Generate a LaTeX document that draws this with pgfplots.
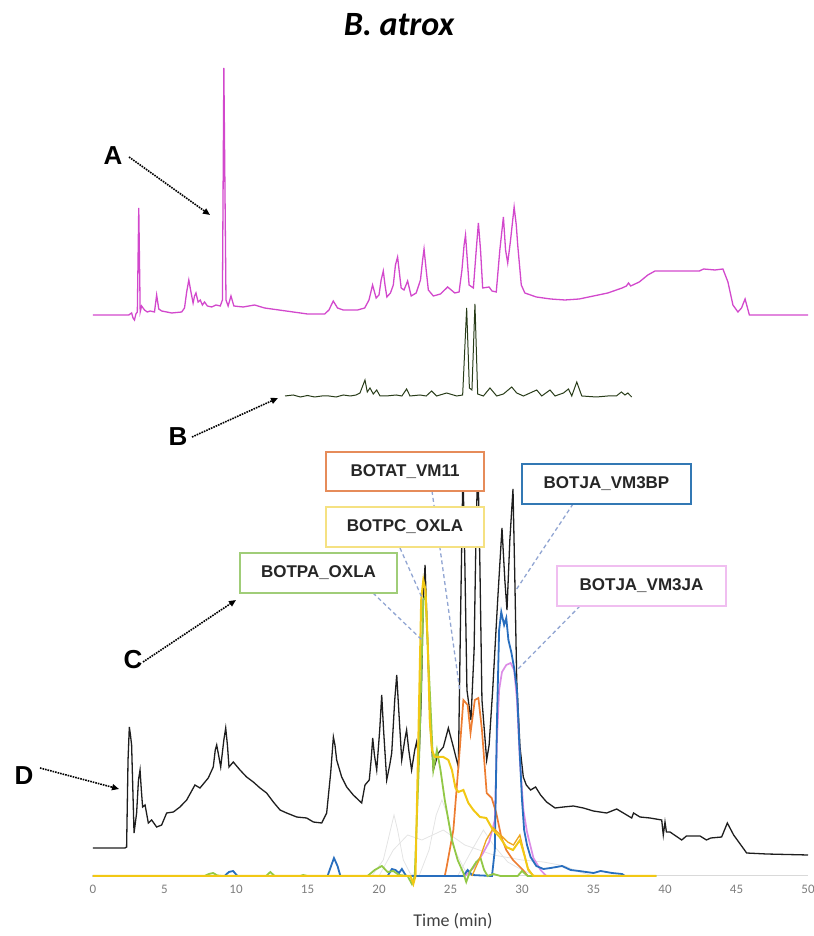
\documentclass[border=0pt]{standalone}
\usepackage{pgfplots}
\pgfplotsset{compat=1.18}
\usepackage{fontspec}
\setmainfont{Carlito}
\newfontfamily\arialf{Liberation Sans}
\usetikzlibrary{arrows.meta}
\definecolor{magA}{RGB}{210,72,204}
\definecolor{grnB}{RGB}{40,60,25}
\definecolor{blkC}{RGB}{30,30,30}
\definecolor{yelT}{RGB}{242,200,20}
\definecolor{ambT}{RGB}{238,165,30}
\definecolor{grnT}{RGB}{146,200,70}
\definecolor{bluT}{RGB}{40,110,190}
\definecolor{oraT}{RGB}{237,125,49}
\definecolor{pnkT}{RGB}{220,140,230}
\definecolor{fntT}{RGB}{228,228,228}
\definecolor{dashC}{RGB}{145,165,210}
\definecolor{tickgray}{RGB}{125,125,125}
\definecolor{bxOra}{RGB}{230,140,90}
\definecolor{bxYel}{RGB}{245,225,130}
\definecolor{bxGrn}{RGB}{160,205,120}
\definecolor{bxBlu}{RGB}{50,120,180}
\definecolor{bxPnk}{RGB}{240,190,240}
\begin{document}
\begin{tikzpicture}
\begin{axis}[name=ax,
 scale only axis, width=715pt, height=876pt,
 xmin=0,xmax=50,ymin=0,ymax=876,
 axis x line*=bottom, axis y line=none,
 x axis line style={draw=gray!30, line width=1pt},
 xtick={0,5,...,50}, major tick length=0pt,
 xticklabel style={font=\fontsize{13}{13}\selectfont, text=tickgray},
 xticklabel shift=6pt,
 /pgf/number format/assume math mode=true,
 y filter/.expression={876-y},
 clip=false,
]
% faint background traces
\addplot[fntT, line width=0.8pt] coordinates {(19.5,876)(20.3,860)(20.8,830)(21.05,815)(21.3,830)(21.7,860)(22.2,874)(23.0,876)};
\addplot[fntT, line width=0.8pt] coordinates {(22.8,876)(23.5,850)(24.0,815)(24.4,800)(24.8,815)(25.3,850)(26.0,870)(27.0,876)};
\addplot[fntT, line width=0.8pt] coordinates {(20.0,876)(21.0,850)(22.0,835)(23.0,840)(24.5,830)(26.0,845)(28.0,855)(30.0,860)(31.5,862)(33.0,866)(34.0,872)(35,876)};
\addplot[fntT, line width=0.8pt] coordinates {(25.5,876)(26.5,850)(27.3,830)(28.0,845)(29.0,862)(30.0,870)(31,876)};
% A magenta
\addplot[magA, line width=1.3pt] coordinates {(0,315)(2.5,315)(2.7,313)(2.8,318)(2.9,320)(3.0,314)(3.1,312)(3.2,208)(3.3,312)(3.4,306)(3.6,310)(3.8,312)(4.0,311)(4.3,312)(4.45,295)(4.6,309)(4.8,311)(5.5,313)(6.2,312)(6.4,308)(6.55,292)(6.7,280)(6.85,292)(7.0,303)(7.1,296)(7.2,293)(7.35,302)(7.5,300)(7.65,305)(7.8,302)(8.0,306)(8.3,307)(8.6,305)(8.9,306)(9.05,300)(9.15,68)(9.3,300)(9.45,306)(9.65,296)(9.85,306)(10.5,307)(11.3,305)(12.0,308)(13.0,310)(14.0,312)(15.0,314)(16.2,314)(16.5,310)(16.8,301)(17.1,308)(17.5,310)(18.5,310)(19.0,308)(19.3,300)(19.55,285)(19.8,298)(20.0,295)(20.15,280)(20.3,271)(20.42,285)(20.55,297)(20.8,293)(21.0,285)(21.15,265)(21.3,257)(21.42,272)(21.55,288)(21.75,290)(22.0,281)(22.25,296)(22.6,293)(22.9,280)(23.05,260)(23.15,249)(23.3,270)(23.45,290)(23.8,296)(24.3,294)(24.8,287)(25.3,293)(25.6,292)(25.8,270)(25.95,245)(26.05,235)(26.15,255)(26.3,285)(26.6,288)(26.8,250)(26.95,223)(27.1,250)(27.25,288)(27.7,287)(27.9,291)(28.2,292)(28.45,250)(28.7,217)(28.85,250)(29.0,263)(29.2,240)(29.45,207)(29.6,225)(29.7,245)(29.95,285)(30.2,293)(31.0,297)(32.0,299)(33.0,300)(34.0,299)(35.0,296)(36.0,293)(37.0,288)(37.3,286)(37.45,283)(37.6,286)(38.2,282)(38.8,275)(39.3,271)(41.0,271)(42.4,271)(42.7,269)(43.5,270)(44.05,269)(44.4,282)(44.75,305)(45.1,312)(45.35,308)(45.6,299)(45.9,315)(50.0,315)};
% B dark green
\addplot[grnB, line width=1.0pt] coordinates {(13.43,396)(14.0,395)(14.5,397)(15.0,395.5)(15.5,397)(16.0,396)(16.5,396)(17.0,397)(17.5,395)(18.0,396)(18.4,395)(18.67,393)(19.02,380)(19.18,392)(19.37,388)(19.6,394)(19.84,390)(20.07,396)(20.5,396)(21.2,395)(21.6,396)(21.93,389)(22.17,396)(22.87,395)(23.3,396)(23.68,391)(24.03,396)(24.73,393)(25.43,396)(25.85,395)(26.13,308)(26.32,388)(26.5,390)(26.71,304)(26.9,394)(27.3,396)(27.76,388)(28.23,396)(28.7,394)(29.28,387)(29.63,393)(30.1,396)(31.03,390)(31.38,396)(31.96,390)(32.31,396)(32.9,393)(33.25,389)(33.48,396)(33.83,382)(34.18,396)(35.2,397)(36.0,396)(36.6,396)(36.95,392)(37.2,395)(37.4,393)(37.67,397)};
% C/D black
\addplot[blkC, line width=1.3pt] coordinates {(0,848)(2.24,848)(2.35,847)(2.45,760)(2.54,727)(2.62,735)(2.7,745)(2.87,833)(3.05,813)(3.18,780)(3.29,770)(3.38,790)(3.47,807)(3.64,805)(3.87,823)(4.1,820)(4.45,827)(4.8,825)(5.15,813)(5.62,812)(6.08,807)(6.55,800)(7.13,785)(7.48,788)(8.06,778)(8.41,767)(8.55,750)(8.65,745)(8.78,755)(8.93,767)(9.15,740)(9.28,728)(9.4,745)(9.51,767)(9.81,762)(10.28,770)(10.74,777)(11.21,782)(11.68,788)(12.14,793)(12.61,802)(13.08,810)(13.54,813)(14.24,817)(14.94,818)(15.41,822)(15.99,823)(16.34,813)(16.62,773)(16.81,737)(16.92,745)(17.04,760)(17.39,777)(17.74,787)(18.2,795)(18.79,803)(19.02,785)(19.32,780)(19.45,760)(19.56,738)(19.68,755)(19.84,770)(20.05,730)(20.19,695)(20.32,730)(20.54,780)(20.75,765)(20.89,753)(21.1,700)(21.24,675)(21.38,710)(21.59,760)(21.8,740)(21.93,730)(22.08,750)(22.28,770)(22.5,750)(22.63,742)(22.8,760)(22.95,700)(23.1,600)(23.22,565)(23.35,620)(23.57,723)(23.8,770)(24.15,753)(24.5,747)(24.85,728)(25.2,747)(25.55,767)(25.7,620)(25.87,470)(26.0,560)(26.15,690)(26.43,720)(26.65,650)(26.8,520)(26.92,465)(27.05,560)(27.2,700)(27.53,760)(27.7,745)(27.95,690)(28.3,600)(28.6,528)(28.8,580)(28.95,610)(29.15,540)(29.37,489)(29.5,580)(29.63,680)(29.86,747)(30.09,777)(30.3,785)(30.6,790)(30.95,787)(31.3,795)(31.72,802)(32.31,808)(32.89,807)(33.59,806)(34.29,808)(34.99,811)(35.92,813)(36.62,809)(37.32,815)(37.67,818)(37.8,813)(38.25,817)(38.95,818)(39.77,820)(39.88,835)(40.0,822)(40.1,832)(40.35,832)(41.17,840)(41.5,836)(42.45,836)(42.9,840)(43.2,838)(43.96,837)(44.36,823)(44.8,835)(45.71,853)(47.1,854)(50.0,855)};
% pink
\addplot[pnkT, line width=1.7pt] coordinates {(0,876)(26.0,876)(26.6,868)(27.2,855)(27.7,842)(28.1,820)(28.25,740)(28.4,690)(28.6,672)(28.9,665)(29.2,663)(29.45,670)(29.65,700)(29.85,760)(30.1,810)(30.35,832)(30.8,858)(31.3,870)(31.7,876)};
% orange
\addplot[oraT, line width=1.7pt] coordinates {(0,876)(24.6,876)(24.73,867)(25.2,830)(25.66,747)(25.9,700)(26.2,705)(26.4,733)(26.7,700)(26.95,698)(27.2,730)(27.53,793)(27.88,798)(28.2,813)(28.55,837)(28.9,850)(29.37,860)(30.07,870)(30.4,876)};
% blue
\addplot[bluT, line width=1.8pt] coordinates {(0,876)(9.2,876)(9.5,872)(9.8,871)(10.1,876)(16.4,876)(16.6,868)(16.85,858)(17.1,866)(17.3,876)(20.6,876)(20.9,869)(21.15,870)(21.4,873)(21.6,869)(21.9,876)(25.9,876)(26.2,870)(26.5,875)(27.9,876)(28.1,850)(28.25,720)(28.4,630)(28.55,612)(28.75,625)(28.9,618)(29.05,640)(29.25,652)(29.45,668)(29.65,690)(29.8,740)(30.0,800)(30.15,830)(30.35,845)(30.6,857)(31.0,866)(31.5,869)(32.0,868)(32.8,866)(33.4,870)(34.0,871)(35.0,873)(35.5,871)(36.3,873)(37.0,874)(37.2,876)};
% green
\addplot[grnT, line width=1.8pt] coordinates {(0,876)(7.8,876)(8.1,874)(8.4,873)(8.7,875.5)(9.0,876)(12.1,876)(12.4,872)(12.7,876)(14.5,876)(14.7,875)(15.0,876)(19.2,876)(19.7,870)(20.2,866)(20.6,872)(21.0,871)(21.4,875)(22.0,876)(22.3,884)(22.5,876)(22.8,760)(23.1,600)(23.25,596)(23.45,660)(23.6,705)(23.8,770)(24.05,750)(24.3,770)(24.6,800)(25.1,840)(25.5,860)(25.9,873)(26.1,882)(26.35,872)(26.8,862)(27.1,858)(27.35,870)(27.6,876)(28.0,874)(28.5,876)(29.7,876)(30.0,871)(30.4,876)(39.4,876)};
% yellow
\addplot[ambT, line width=1.3pt] coordinates {(26.5,876)(27.0,860)(27.5,840)(28.0,828)(28.5,835)(29.0,842)(29.4,845)(29.85,835)(30.1,850)(30.4,868)(30.8,876)};
\addplot[yelT, line width=2pt] coordinates {(0,876)(22.2,876)(22.4,884)(22.55,876)(22.75,740)(22.95,600)(23.1,580)(23.25,590)(23.4,640)(23.55,720)(23.7,750)(23.9,757)(24.5,757)(24.85,760)(25.1,770)(25.35,788)(25.55,792)(25.9,790)(26.25,803)(26.6,810)(27.06,817)(27.5,818)(27.97,830)(28.44,837)(28.9,847)(29.37,850)(29.86,840)(30.2,857)(30.44,870)(30.8,876)(39.4,876)};
\end{axis}
\begin{scope}[shift={(ax.south west)}]
\begin{scope}[shift={(-93pt,876pt)}, x=1pt, y=-1pt]
% connectors
\begin{scope}[dashC, line width=1.3pt, dash pattern=on 4pt off 3pt]
\draw (373,593) -- (422,640);
\draw (400,548) -- (423,600);
\draw (432,491) -- (460,692);
\draw (573,504) -- (516,590);
\draw (580,606) -- (517,670);
\end{scope}
% boxes
\def\bx#1#2#3#4#5#6{\draw[#5, line width=1.2pt, fill=white] (#1,#2) rectangle (#3,#4);
 \node[font=\arialf\bfseries\fontsize{17}{17}\selectfont, text=black!85] at ({(#1+#3)/2},{(#2+#4)/2}) {#6};}
\bx{326}{452}{484}{491}{bxOra}{BOTAT\_VM11}
\bx{326}{507}{484}{547}{bxYel}{BOTPC\_OXLA}
\bx{240}{553}{397}{593}{bxGrn}{BOTPA\_OXLA}
\bx{522}{464}{691}{504}{bxBlu}{BOTJA\_VM3BP}
\bx{557}{566}{726}{606}{bxPnk}{BOTJA\_VM3JA}
% letters and arrows
\begin{scope}[line width=1.6pt, densely dotted, -{Triangle[length=7pt,width=6pt]}]
\draw (129,157) -- (210,215);
\draw (192,437) -- (278,398);
\draw (143,662) -- (236,600);
\draw (40,768) -- (119,789);
\end{scope}
\begin{scope}[font=\arialf\bfseries\fontsize{26}{26}\selectfont]
\node at (113,156) {A};
\node at (178,437) {B};
\node at (133,660) {C};
\node at (24,776) {D};
\end{scope}
\node[font=\bfseries\itshape\fontsize{34}{34}\selectfont] at (399,25) {B. atrox};
\node[font=\fontsize{18}{18}\selectfont, text=black!75] at (453,921) {Time (min)};
\pgfresetboundingbox
\path[use as bounding box] (0,0) rectangle (813,936);
\end{scope}
\end{scope}
\end{tikzpicture}
\end{document}
